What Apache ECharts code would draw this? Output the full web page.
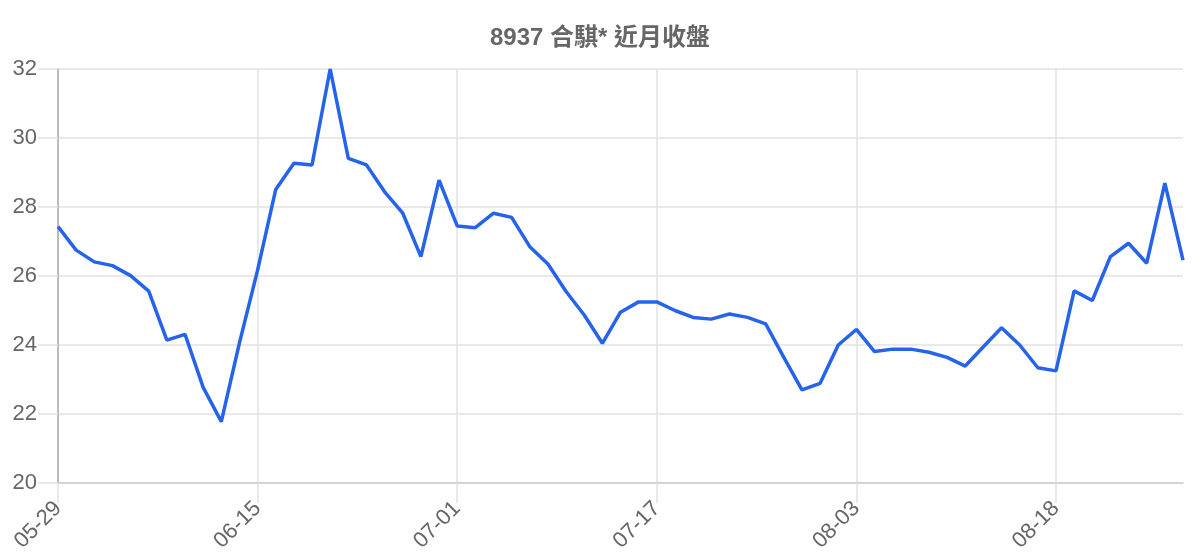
<!DOCTYPE html>
<html>
<head>
<meta charset="utf-8">
<script src="https://cdn.jsdelivr.net/npm/echarts@6/dist/echarts.min.js"></script>
<style>html,body{margin:0;padding:0;background:#fff}#c{width:1200px;height:560px}</style>
</head>
<body>
<div id="c"></div>
<script>
const titleText = '8937 合騏* 近月收盤';
const dates = [
  '05-29','06-01','06-02','06-03','06-04','06-05','06-08','06-09','06-10','06-11','06-12',
  '06-15','06-16','06-17','06-18','06-19','06-22','06-23','06-24','06-26','06-29','06-30',
  '07-01','07-02','07-03','07-06','07-07','07-08','07-09','07-10','07-13','07-14','07-15',
  '07-17','07-20','07-21','07-22','07-23','07-24','07-27','07-28','07-29','07-30','07-31',
  '08-03','08-04','08-05','08-06','08-07','08-10','08-11','08-12','08-13','08-14','08-17',
  '08-18','08-19','08-20','08-21','08-24','08-25','08-26','08-27'
];
const closes = [
  27.43,26.75,26.41,26.30,26.01,25.56,24.14,24.31,22.77,21.78,24.06,
  26.17,28.51,29.27,29.22,32.00,29.41,29.22,28.44,27.82,26.56,28.78,
  27.45,27.40,27.82,27.70,26.85,26.35,25.55,24.87,24.05,24.95,25.25,
  25.25,25.00,24.80,24.75,24.90,24.80,24.61,23.64,22.70,22.89,24.00,
  24.45,23.81,23.88,23.88,23.79,23.64,23.39,23.95,24.50,24.00,23.34,
  23.25,25.57,25.29,26.56,26.95,26.37,28.69,26.46
];
const yMin = 20, yMax = 32, yStep = 2;

const chart = echarts.init(document.getElementById('c'));
chart.setOption({
  animation: false,
  backgroundColor: '#fff',
  title: {
    text: titleText,
    left: 'center',
    top: 21,
    textStyle: { fontSize: 24, fontWeight: 'bold', color: '#666', fontFamily: 'Liberation Sans, Arial, Noto Sans CJK TC, sans-serif' }
  },
  grid: { left: 58, right: 17, top: 69, bottom: 77, containLabel: false },
  xAxis: {
    type: 'category',
    data: dates,
    boundaryGap: false,
    axisLine: { show: true, lineStyle: { color: '#cccccc', width: 1.5 } },
    axisTick: { show: true, length: 20, interval: 10, lineStyle: { color: '#e2e2e2', width: 1.5 } },
    axisLabel: { interval: 10, rotate: 45, margin: 22, fontSize: 22, color: '#666', fontFamily: 'Liberation Sans, Arial, sans-serif' },
    splitLine: { show: true, interval: 10, lineStyle: { color: '#e2e2e2', width: 1.5 } }
  },
  yAxis: {
    type: 'value',
    min: yMin, max: yMax, interval: yStep,
    axisLine: { show: true, lineStyle: { color: '#aaaaaa', width: 1.5 } },
    axisTick: { show: true, length: 20, lineStyle: { color: '#e2e2e2', width: 1.5 } },
    axisLabel: { margin: 21, fontSize: 22, color: '#666', fontFamily: 'Liberation Sans, Arial, sans-serif' },
    splitLine: { show: true, lineStyle: { color: '#e2e2e2', width: 1.5 } }
  },
  series: [{
    type: 'line',
    data: closes,
    showSymbol: false,
    symbol: 'none',
    lineStyle: { color: '#2563eb', width: 3.5 },
    itemStyle: { color: '#2563eb' }
  }]
});
</script>
</body>
</html>
